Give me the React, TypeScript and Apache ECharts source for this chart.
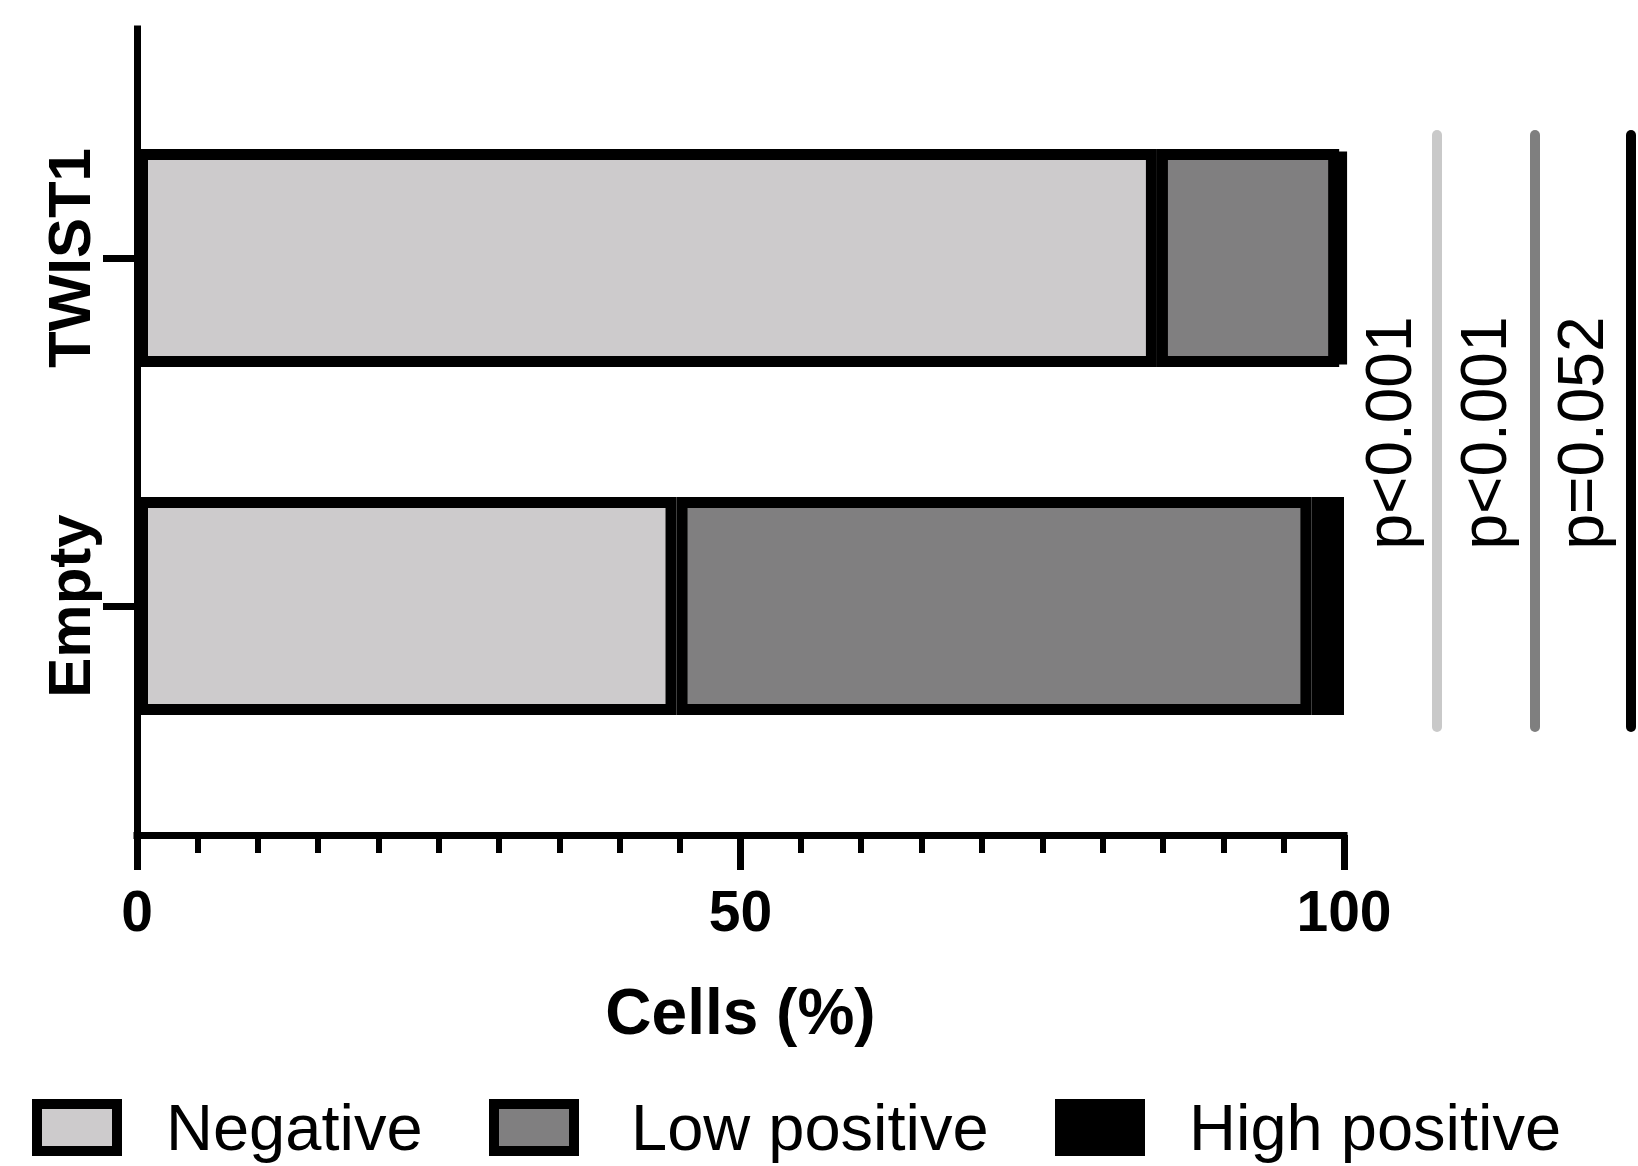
import React, { useEffect, useRef } from "react";
import * as echarts from "echarts";

const categories = ["Empty", "TWIST1"];
const seriesNames = ["Negative", "Low positive", "High positive"];
const negative = [44.7, 84.5];
const lowPositive = [52.6, 15.1];
const highPositive = [2.7, 0.4];
const seriesColors = ["#cdcbcc", "#807f80", "#000000"];
const xMin = 0;
const xMax = 100;
const xInterval = 50;
const xName = "Cells (%)";
const pLabels = ["p<0.001", "p<0.001", "p=0.052"];
const pColors = ["#c9c9c9", "#7f7f7f", "#000000"];

const FONT = "'Liberation Sans', Arial, Helvetica, sans-serif";

export default function App() {
  const ref = useRef<HTMLDivElement>(null);

  useEffect(() => {
    document.body.style.margin = "0";
    if (!ref.current) return;
    const chart = echarts.init(ref.current, undefined, { renderer: "svg" });

    const values = [negative, lowPositive, highPositive];
    const legendLefts = [32, 489, 1055];
    const legendPads = [44, 52, 44];
    const lineXs = [1437, 1535, 1631];
    const textXs = [1389, 1484, 1581];

    const graphic: any[] = [];
    pLabels.forEach((label, i) => {
      graphic.push({
        type: "line",
        shape: { x1: lineXs[i], y1: 135, x2: lineXs[i], y2: 727 },
        style: { stroke: pColors[i], lineWidth: 10, lineCap: "round" },
      });
      graphic.push({
        type: "text",
        x: textXs[i],
        y: 433,
        rotation: Math.PI / 2,
        style: {
          text: label,
          fontSize: 64,
          fontFamily: FONT,
          fill: "#000",
          align: "center",
          verticalAlign: "middle",
        },
      });
    });

    const option: any = {
      animation: false,
      backgroundColor: "#ffffff",
      grid: [
        { left: 137, right: 294, top: 84, height: 696, containLabel: false },
        { left: 137, right: 294, top: 29, height: 806, containLabel: false },
      ],
      xAxis: [
        {
          type: "value",
          gridIndex: 0,
          min: xMin,
          max: xMax,
          interval: xInterval,
          position: "bottom",
          offset: 55,
          axisLine: { show: true, onZero: false, lineStyle: { color: "#000", width: 7, cap: "square" } },
          axisTick: { show: true, length: 35, lineStyle: { color: "#000", width: 7 } },
          minorTick: { show: true, splitNumber: 10, length: 18, lineStyle: { color: "#000", width: 6 } },
          splitLine: { show: false },
          minorSplitLine: { show: false },
          axisLabel: {
            fontSize: 57,
            fontWeight: "bold",
            fontFamily: FONT,
            color: "#000",
            margin: 47,
          },
          name: xName,
          nameLocation: "middle",
          nameGap: 145,
          nameTextStyle: { fontSize: 64, fontWeight: "bold", fontFamily: FONT, color: "#000" },
        },
        {
          type: "value",
          gridIndex: 1,
          min: 0,
          max: 1,
          show: false,
        },
      ],
      yAxis: [
        {
          type: "category",
          gridIndex: 0,
          data: categories,
          axisLine: { show: false },
          axisTick: { show: true, alignWithLabel: true, length: 34, lineStyle: { color: "#000", width: 7 } },
          axisLabel: {
            rotate: 90,
            fontSize: 60,
            fontWeight: "bold",
            fontFamily: FONT,
            color: "#000",
            margin: 38,
          },
          splitLine: { show: false },
        },
        {
          type: "value",
          gridIndex: 1,
          min: 0,
          max: 1,
          axisLine: { show: true, onZero: false, lineStyle: { color: "#000", width: 7, cap: "square" } },
          axisTick: { show: false },
          axisLabel: { show: false },
          splitLine: { show: false },
        },
      ],
      legend: seriesNames.map((name, i) => ({
        data: [name],
        left: legendLefts[i],
        top: 1095,
        padding: 0,
        itemWidth: 80,
        itemHeight: 47,
        icon: "rect",
        itemStyle: { borderColor: "#000", borderWidth: 10 },
        textStyle: {
          fontSize: 65,
          fontFamily: FONT,
          color: "#000",
          padding: [0, 0, 0, legendPads[i]],
        },
      })),
      series: seriesNames.map((name, i) => ({
        name,
        type: "bar",
        stack: "total",
        xAxisIndex: 0,
        yAxisIndex: 0,
        barWidth: 218,
        data: values[i],
        itemStyle: { color: seriesColors[i], borderColor: "#000", borderWidth: 11 },
        emphasis: { disabled: true },
      })),
      graphic,
    };

    chart.setOption(option);
    return () => chart.dispose();
  }, []);

  return <div ref={ref} style={{ width: 1638, height: 1166 }} />;
}
